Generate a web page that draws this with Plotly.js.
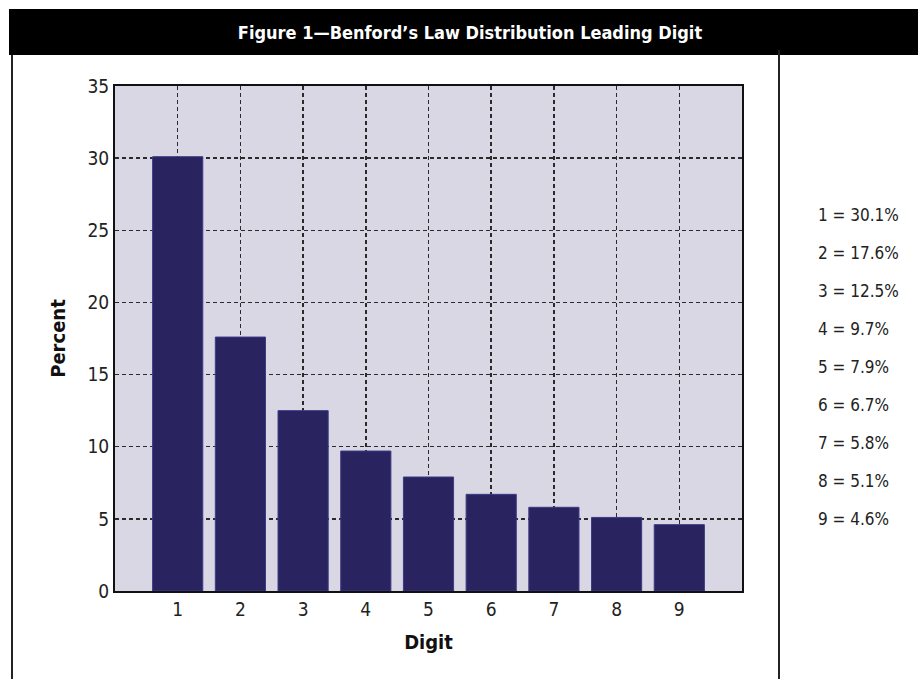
<!DOCTYPE html>
<html>
<head>
<meta charset="utf-8">
<script src="https://cdn.plot.ly/plotly-3.0.1.min.js"></script>
<style>
  html, body { margin: 0; padding: 0; background: #ffffff; }
  #chart { width: 918px; height: 679px; }
</style>
</head>
<body>
<div id="chart"></div>
<script>
// ---- data ----
const digits = [1, 2, 3, 4, 5, 6, 7, 8, 9];
const percents = [30.1, 17.6, 12.5, 9.7, 7.9, 6.7, 5.8, 5.1, 4.6];
const yTicks = [0, 5, 10, 15, 20, 25, 30, 35];
const chartTitle = "Figure 1\u2014Benford\u2019s Law Distribution Leading Digit";
const xTitle = "Digit";
const yTitle = "Percent";

// ---- geometry helpers (page pixels -> paper coords) ----
const W = 918, H = 679;
const M = { l: 115, r: 176, t: 86, b: 88 };
const PW = W - M.l - M.r, PH = H - M.t - M.b;
const px = x => (x - M.l) / PW;
const py = y => (H - M.b - y) / PH;

const FONT = '"Liberation Sans Narrow", "DejaVu Sans Condensed", "Arial Narrow", sans-serif';

const trace = {
  type: 'bar',
  x: digits,
  y: percents,
  width: 0.8,
  marker: { color: '#29245f', line: { color: '#3b3a86', width: 1 } },
  hoverinfo: 'x+y'
};

// list on the right built from the data
const annotations = digits.map((d, i) => ({
  xref: 'paper', yref: 'paper',
  x: px(816), y: py(215 + i * 38.0),
  xanchor: 'left', yanchor: 'middle',
  text: d + ' = ' + percents[i] + '%',
  showarrow: false,
  font: { family: FONT, size: 17, color: '#222' }
}));

const shapes = [
  // black title bar
  { type: 'rect', xref: 'paper', yref: 'paper', x0: px(9), x1: px(918), y0: py(55), y1: py(9),
    fillcolor: '#000', line: { width: 0 }, layer: 'below' },
  // left frame line
  { type: 'line', xref: 'paper', yref: 'paper', x0: px(12), x1: px(12), y0: py(55), y1: py(679),
    line: { color: '#222', width: 2 } },
  // right separator line
  { type: 'line', xref: 'paper', yref: 'paper', x0: px(779), x1: px(779), y0: py(50), y1: py(679),
    line: { color: '#222', width: 2 } }
];

const layout = {
  width: W, height: H,
  margin: M,
  paper_bgcolor: '#ffffff',
  plot_bgcolor: '#d9d7e4',
  showlegend: false,
  bargap: 0.2,
  title: {
    text: '<b>' + chartTitle + '</b>',
    xref: 'container', yref: 'container',
    x: 470 / W, y: 1 - 33 / H,
    xanchor: 'center', yanchor: 'middle',
    font: { family: FONT, size: 18, color: '#ffffff' }
  },
  xaxis: {
    range: [0, 10],
    tickvals: digits,
    ticktext: digits.map(String),
    showgrid: true, gridcolor: '#2a2a2a', gridwidth: 1.5, griddash: '4px,3px',
    zeroline: false,
    showline: true, mirror: true, linecolor: '#111', linewidth: 2,
    ticks: '',
    tickfont: { family: FONT, size: 19, color: '#222' },
    title: { text: '<b>' + xTitle + '</b>', font: { family: FONT, size: 20, color: '#111' }, standoff: 16 }
  },
  yaxis: {
    range: [0, 35],
    tickvals: yTicks,
    showgrid: true, gridcolor: '#2a2a2a', gridwidth: 1.5, griddash: '4px,3px',
    zeroline: false,
    showline: true, mirror: true, linecolor: '#111', linewidth: 2,
    ticks: '',
    tickfont: { family: FONT, size: 19, color: '#222' },
    title: { text: '<b>' + yTitle + '</b>', font: { family: FONT, size: 20, color: '#111' }, standoff: 16 }
  },
  shapes: shapes,
  annotations: annotations
};

Plotly.newPlot('chart', [trace], layout, { displayModeBar: false, staticPlot: true });
</script>
</body>
</html>
